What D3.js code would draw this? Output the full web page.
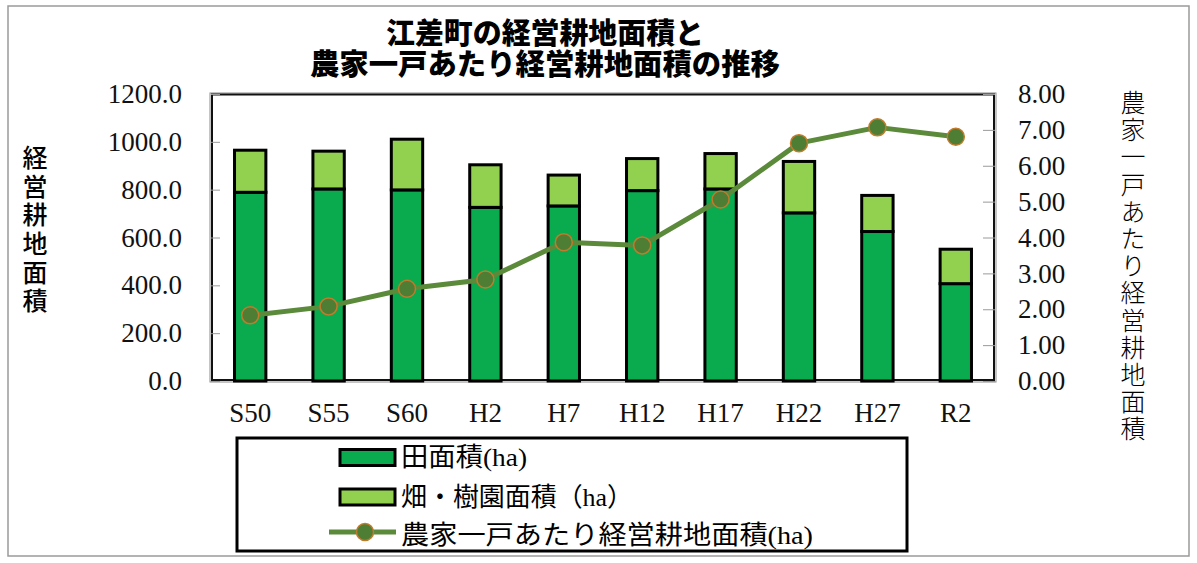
<!DOCTYPE html>
<html lang="ja">
<head>
<meta charset="UTF-8">
<title>江差町の経営耕地面積と農家一戸あたり経営耕地面積の推移</title>
<script src="https://cdn.jsdelivr.net/npm/d3@7/dist/d3.min.js"></script>
<style>
    body{
        margin: 0;
        background: white;
    }
    .tick line{
        stroke: #9a9a9a;
        stroke-width: 1;
    }
    .axis path{
        display: none;
    }
    .axis text{
        font-family: "Liberation Serif", serif;
        font-size: 27px;
        fill: #111;
    }
    .vlabel{
        writing-mode: vertical-rl;
        font-family: "Noto Sans CJK JP", sans-serif;
        font-size: 25px;
    }
</style>
</head>
<body>
<svg id="main" width="1197" height="563"></svg>
<script>
    // data
    const categories = ['S50','S55','S60','H2','H7','H12','H17','H22','H27','R2'];
    const paddy = [789, 803, 799, 726, 732, 796, 803, 703, 625, 407];      // 田面積(ha)
    const upland = [176, 158, 212, 178, 129, 134, 148, 215, 151, 144];     // 畑・樹園面積(ha)
    const perFarm = [1.83, 2.08, 2.57, 2.83, 3.87, 3.78, 5.06, 6.63, 7.07, 6.81]; // 農家一戸あたり(ha)
    const leftTicks = [0, 200, 400, 600, 800, 1000, 1200];
    const rightTicks = [0, 1, 2, 3, 4, 5, 6, 7, 8];

    const titleLines = ['江差町の経営耕地面積と', '農家一戸あたり経営耕地面積の推移'];
    const leftLabel = '経営耕地面積';
    const rightLabel = '農家一戸あたり経営耕地面積';
    const legendItems = ['田面積(ha)', '畑・樹園面積（ha）', '農家一戸あたり経営耕地面積(ha)'];

    const colors = {paddy: '#0aab4f', upland: '#92d050', line: '#5b8a3a', dot: '#4e7d34', dotStroke: '#c27a2c'};

    const width = 1197, height = 563;
    const margin = {top: 94, bottom: 182, left: 211, right: 202};
    const plotW = width - margin.left - margin.right;
    const plotB = height - margin.bottom;

    const svg = d3.select('svg#main');

    // outer chart border
    svg.append('rect')
        .attr('x', 8).attr('y', 6).attr('width', 1181).attr('height', 550)
        .attr('fill', 'white').attr('stroke', '#9a9a9a').attr('stroke-width', 1.5);

    const xScale = d3.scaleBand()
        .domain(categories)
        .range([margin.left, margin.left + plotW])
        .paddingInner(0.6)
        .paddingOuter(0.3);
    const yLeft = d3.scaleLinear().domain([0, 1200]).range([plotB, margin.top]);
    const yRight = d3.scaleLinear().domain([0, 8]).range([plotB, margin.top]);

    // plot frame
    svg.append('rect')
        .attr('x', margin.left - 1).attr('y', margin.top - 1)
        .attr('width', plotW + 2).attr('height', plotB - margin.top + 2)
        .attr('fill', 'white').attr('stroke', '#8c8c8c').attr('stroke-width', 1);
    svg.append('rect')
        .attr('x', margin.left + 1).attr('y', margin.top + 0.5)
        .attr('width', plotW - 2).attr('height', plotB - margin.top - 1.5)
        .attr('fill', 'none').attr('stroke', '#111').attr('stroke-width', 2);

    // axes
    svg.append('g')
        .attr('class', 'axis yAxis')
        .attr('transform', `translate(${margin.left},0)`)
        .call(d3.axisLeft(yLeft).tickValues(leftTicks).tickFormat(d3.format('.1f'))
            .tickSizeInner(-9).tickSizeOuter(0).tickPadding(29));

    svg.append('g')
        .attr('class', 'axis yAxis2')
        .attr('transform', `translate(${margin.left + plotW},0)`)
        .call(d3.axisRight(yRight).tickValues(rightTicks).tickFormat(d3.format('.2f'))
            .tickSizeInner(-12).tickSizeOuter(0).tickPadding(23));

    svg.append('g')
        .attr('class', 'axis xAxis')
        .attr('transform', `translate(0,${plotB})`)
        .call(d3.axisBottom(xScale).tickSizeInner(-5).tickSizeOuter(0).tickPadding(22));

    // stacked bars
    const stacked = d3.stack().keys(['paddy', 'upland'])(
        categories.map((c, i) => ({cat: c, paddy: paddy[i], upland: upland[i]})));

    svg.append('g').selectAll('g')
        .data(stacked)
        .join('g')
        .attr('fill', d => colors[d.key])
        .selectAll('rect')
        .data(d => d)
        .join('rect')
        .attr('x', d => xScale(d.data.cat))
        .attr('width', xScale.bandwidth())
        .attr('y', d => yLeft(d[1]))
        .attr('height', d => yLeft(d[0]) - yLeft(d[1]))
        .attr('stroke', '#000')
        .attr('stroke-width', 3);

    // line on right axis
    const cx = i => xScale(categories[i]) + xScale.bandwidth() / 2;
    const line = d3.line()
        .x((_, i) => cx(i))
        .y(d => yRight(d));
    svg.append('path')
        .datum(perFarm)
        .attr('d', line)
        .attr('fill', 'none')
        .attr('stroke', colors.line)
        .attr('stroke-width', 5)
        .attr('stroke-linejoin', 'round');
    svg.append('g').selectAll('circle')
        .data(perFarm)
        .join('circle')
        .attr('cx', (_, i) => cx(i))
        .attr('cy', d => yRight(d))
        .attr('r', 8.5)
        .attr('fill', colors.dot)
        .attr('stroke', colors.dotStroke)
        .attr('stroke-width', 1.5);

    // title: heavy gothic, widths matched to the original
    const titleLen = [318, 470];
    svg.append('g').selectAll('text')
        .data(titleLines)
        .join('text')
        .attr('x', 545)
        .attr('y', (_, i) => 44 + i * 31)
        .attr('text-anchor', 'middle')
        .attr('font-family', '"Noto Sans CJK JP", sans-serif')
        .attr('font-weight', 900)
        .attr('font-size', 29)
        .attr('textLength', (_, i) => titleLen[i])
        .attr('lengthAdjust', 'spacingAndGlyphs')
        .attr('fill', '#000')
        .text(d => d);

    // vertical axis titles
    svg.append('text')
        .attr('class', 'vlabel')
        .attr('x', 35).attr('y', 145)
        .attr('font-weight', 500)
        .attr('letter-spacing', 3.7)
        .text(leftLabel);

    svg.append('text')
        .attr('class', 'vlabel')
        .attr('x', 1133).attr('y', 90)
        .attr('font-weight', 300)
        .attr('letter-spacing', 2.2)
        .text(rightLabel);

    // legend
    const legend = svg.append('g');
    legend.append('rect')
        .attr('x', 237).attr('y', 438).attr('width', 670).attr('height', 113)
        .attr('fill', 'white').attr('stroke', '#000').attr('stroke-width', 3);

    const rowY = [457.5, 497, 535];
    const textLen = [126, 232, 412];
    const rows = legend.selectAll('.legends')
        .data(legendItems)
        .join('g')
        .attr('class', 'legends')
        .attr('transform', (_, i) => `translate(0,${rowY[i]})`);

    rows.filter((_, i) => i < 2)
        .append('rect')
        .attr('x', 340).attr('y', -8).attr('width', 55).attr('height', 16)
        .attr('fill', (_, i) => i === 0 ? colors.paddy : colors.upland)
        .attr('stroke', '#000').attr('stroke-width', 3);

    const lineRow = rows.filter((_, i) => i === 2);
    lineRow.append('line')
        .attr('x1', 329).attr('x2', 396).attr('y1', -3).attr('y2', -3)
        .attr('stroke', colors.line).attr('stroke-width', 5);
    lineRow.append('circle')
        .attr('cx', 365).attr('cy', -3).attr('r', 8.5)
        .attr('fill', colors.dot).attr('stroke', colors.dotStroke).attr('stroke-width', 1.5);

    rows.append('text')
        .attr('x', 401)
        .attr('y', 0)
        .attr('dominant-baseline', 'central')
        .attr('font-family', '"Liberation Serif", "Noto Sans CJK JP", serif')
        .attr('font-size', 26)
        .attr('textLength', (_, i) => textLen[i])
        .attr('lengthAdjust', 'spacingAndGlyphs')
        .text(d => d);
</script>
</body>
</html>
